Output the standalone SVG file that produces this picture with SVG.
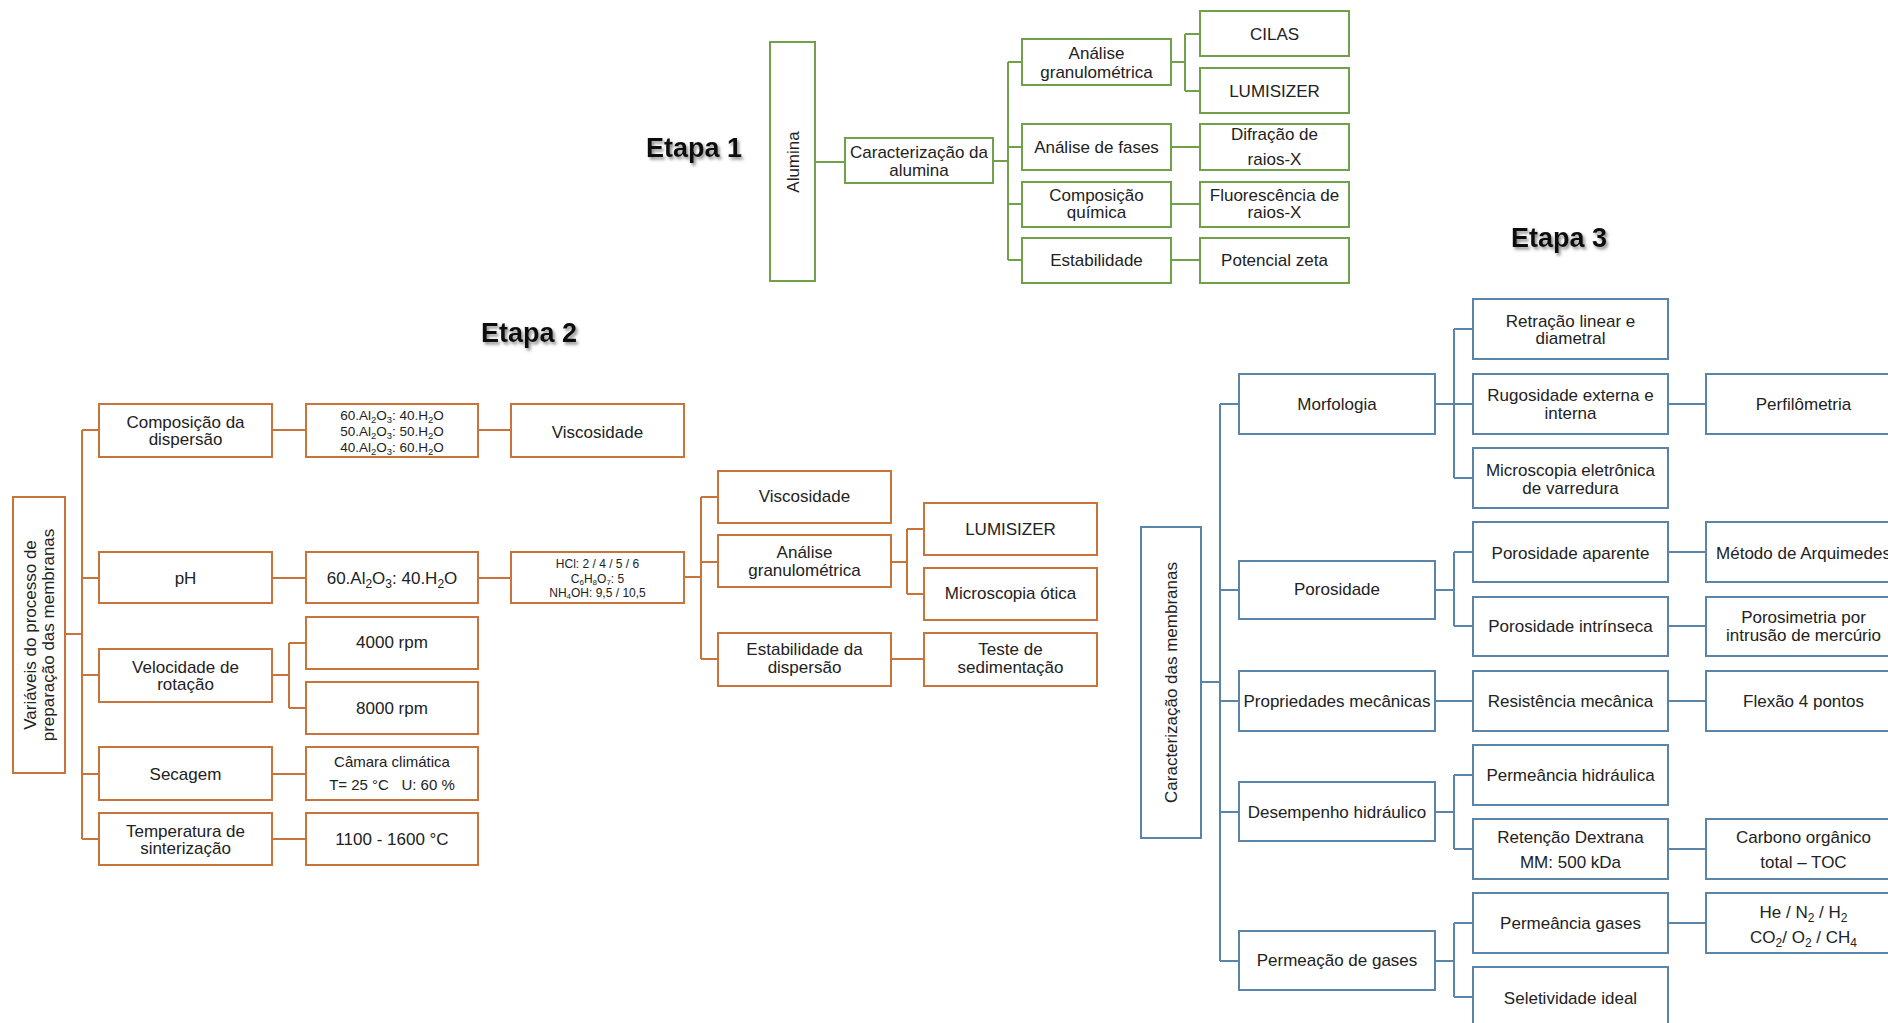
<svg xmlns="http://www.w3.org/2000/svg" width="1888" height="1023" viewBox="0 0 1888 1023">
<defs>
<filter id="sh" x="-10%" y="-30%" width="130%" height="170%">
<feDropShadow dx="2" dy="2.5" stdDeviation="1.6" flood-color="#555" flood-opacity="0.65"/>
</filter>
</defs>
<style>
text{font-family:"Liberation Sans",Arial,sans-serif;font-size:17px;fill:#222;text-anchor:middle}
.title{font-size:27px;font-weight:bold;text-anchor:start;fill:#111}
rect{fill:#fff;stroke-width:2}
.g rect{stroke:#70A048}
.o rect{stroke:#C8733A}
.b rect{stroke:#5A84A8}
.cg path{stroke:#70A048;stroke-width:2;fill:none}
.co path{stroke:#C8733A;stroke-width:2;fill:none}
.cb path{stroke:#5A84A8;stroke-width:2;fill:none}
.sm{font-size:13.5px}
.xs{font-size:12px}
</style>
<rect x="0" y="0" width="1888" height="1023" style="fill:#fff;stroke:none"/>

<text class="title" x="646" y="157" filter="url(#sh)">Etapa 1</text>
<text class="title" x="481" y="341.5" filter="url(#sh)">Etapa 2</text>
<text class="title" x="1511" y="247" filter="url(#sh)">Etapa 3</text>

<!-- Connectors -->
<g id="connectors">
<g class="cg">
<path d="M815 162H845"/>
<path d="M993 161H1008M1008 62V260M1008 62H1022M1008 147H1022M1008 204H1022M1008 260H1022"/>
<path d="M1171 62H1185M1185 34V91M1185 34H1200M1185 91H1200"/>
<path d="M1171 147H1200M1171 204H1200M1171 260H1200"/>
</g>
<g class="co">
<path d="M65 634H82M82 430V839M82 430H99M82 578H99M82 675H99M82 774H99M82 839H99"/>
<path d="M272 430H306M272 578H306M272 675H289M289 643V708M289 643H306M289 708H306M272 774H306M272 839H306"/>
<path d="M478 430H511M478 578H511"/>
<path d="M684 577H701M701 497V659M701 497H718M701 562H718M701 659H718"/>
<path d="M891 562H907M907 529V594M907 529H924M907 594H924M891 659H924"/>
</g>
<g class="cb">
<path d="M1201 682H1220M1220 404V961M1220 404H1239M1220 590H1239M1220 701H1239M1220 812H1239M1220 961H1239"/>
<path d="M1435 404H1454M1454 329V478M1454 329H1473M1454 404H1473M1454 478H1473"/>
<path d="M1435 590H1454M1454 552V626M1454 552H1473M1454 626H1473"/>
<path d="M1435 701H1473"/>
<path d="M1435 812H1454M1454 775V849M1454 775H1473M1454 849H1473"/>
<path d="M1435 961H1454M1454 923V997M1454 923H1473M1454 997H1473"/>
<path d="M1668 404H1706M1668 552H1706M1668 626H1706M1668 701H1706M1668 849H1706M1668 923H1706"/>
</g>
</g>

<!-- Etapa 1 -->
<g class="g">
<g id="alumina"><rect x="770" y="42" width="45" height="239"/><text transform="translate(792.5,162) rotate(-90)" y="6">Alumina</text></g>
<g id="caract-alumina"><rect x="845" y="138" width="148" height="45"/><text x="919" y="158">Caracterização da</text><text x="919" y="176">alumina</text></g>
<g id="analise-gran"><rect x="1022" y="39" width="149" height="46"/><text x="1096.5" y="59">Análise</text><text x="1096.5" y="78">granulométrica</text></g>
<g id="analise-fases"><rect x="1022" y="124" width="149" height="46"/><text x="1096.5" y="153">Análise de fases</text></g>
<g id="comp-quimica"><rect x="1022" y="182" width="149" height="45"/><text x="1096.5" y="201">Composição</text><text x="1096.5" y="218">química</text></g>
<g id="estabilidade"><rect x="1022" y="238" width="149" height="45"/><text x="1096.5" y="266">Estabilidade</text></g>
<g id="cilas"><rect x="1200" y="11" width="149" height="45"/><text x="1274.5" y="40">CILAS</text></g>
<g id="lumisizer1"><rect x="1200" y="68" width="149" height="45"/><text x="1274.5" y="96.5">LUMISIZER</text></g>
<g id="difracao"><rect x="1200" y="124" width="149" height="46"/><text x="1274.5" y="140">Difração de</text><text x="1274.5" y="165">raios-X</text></g>
<g id="fluorescencia"><rect x="1200" y="182" width="149" height="45"/><text x="1274.5" y="201">Fluorescência de</text><text x="1274.5" y="218">raios-X</text></g>
<g id="potencial"><rect x="1200" y="238" width="149" height="45"/><text x="1274.5" y="266">Potencial zeta</text></g>
</g>

<!-- Etapa 2 -->
<g class="o">
<g id="variaveis"><rect x="13" y="497" width="52" height="276"/><text transform="translate(39,635) rotate(-90)"><tspan x="0" y="-2.7">Variáveis do processo de</tspan><tspan x="0" y="14.7">preparação das membranas</tspan></text></g>
<g id="comp-disp"><rect x="99" y="404" width="173" height="53"/><text x="185.5" y="427.5">Composição da</text><text x="185.5" y="445">dispersão</text></g>
<g id="ph"><rect x="99" y="552" width="173" height="51"/><text x="185.5" y="584">pH</text></g>
<g id="velocidade"><rect x="99" y="649" width="173" height="53"/><text x="185.5" y="672.5">Velocidade de</text><text x="185.5" y="690">rotação</text></g>
<g id="secagem"><rect x="99" y="747" width="173" height="53"/><text x="185.5" y="780">Secagem</text></g>
<g id="temperatura"><rect x="99" y="813" width="173" height="52"/><text x="185.5" y="836.5">Temperatura de</text><text x="185.5" y="853.5">sinterização</text></g>
<g id="composicoes"><rect x="306" y="404" width="172" height="53"/>
<text class="sm" x="392" y="420">60.Al<tspan dy="3" font-size="9.5">2</tspan><tspan dy="-3">O</tspan><tspan dy="3" font-size="9.5">3</tspan><tspan dy="-3">: 40.H</tspan><tspan dy="3" font-size="9.5">2</tspan><tspan dy="-3">O</tspan></text>
<text class="sm" x="392" y="435.5">50.Al<tspan dy="3" font-size="9.5">2</tspan><tspan dy="-3">O</tspan><tspan dy="3" font-size="9.5">3</tspan><tspan dy="-3">: 50.H</tspan><tspan dy="3" font-size="9.5">2</tspan><tspan dy="-3">O</tspan></text>
<text class="sm" x="392" y="451.5">40.Al<tspan dy="3" font-size="9.5">2</tspan><tspan dy="-3">O</tspan><tspan dy="3" font-size="9.5">3</tspan><tspan dy="-3">: 60.H</tspan><tspan dy="3" font-size="9.5">2</tspan><tspan dy="-3">O</tspan></text>
</g>
<g id="al60"><rect x="306" y="552" width="172" height="51"/>
<text x="392" y="584">60.Al<tspan dy="4" font-size="12">2</tspan><tspan dy="-4">O</tspan><tspan dy="4" font-size="12">3</tspan><tspan dy="-4">:  40.H</tspan><tspan dy="4" font-size="12">2</tspan><tspan dy="-4">O</tspan></text></g>
<g id="rpm4000"><rect x="306" y="617" width="172" height="52"/><text x="392" y="648">4000 rpm</text></g>
<g id="rpm8000"><rect x="306" y="682" width="172" height="52"/><text x="392" y="714">8000 rpm</text></g>
<g id="camara"><rect x="306" y="747" width="172" height="53"/><text class="sm" x="392" y="766.5" style="font-size:15px">Câmara climática</text><text x="392" y="790" style="font-size:15px" xml:space="preserve">T= 25 °C   U: 60 %</text></g>
<g id="t1100"><rect x="306" y="813" width="172" height="52"/><text x="392" y="845">1100 - 1600 °C</text></g>
<g id="visc1"><rect x="511" y="404" width="173" height="53"/><text x="597.5" y="437.5">Viscosidade</text></g>
<g id="hcl"><rect x="511" y="552" width="173" height="51"/>
<text class="xs" x="597.5" y="568">HCl: 2 / 4 / 5 / 6</text>
<text class="xs" x="597.5" y="582.5">C<tspan dy="2" font-size="8">6</tspan><tspan dy="-2">H</tspan><tspan dy="2" font-size="8">8</tspan><tspan dy="-2">O</tspan><tspan dy="2" font-size="8">7</tspan><tspan dy="-2">: 5</tspan></text>
<text class="xs" x="597.5" y="596.5">NH<tspan dy="2" font-size="8">4</tspan><tspan dy="-2">OH: 9,5 / 10,5</tspan></text></g>
<g id="visc2"><rect x="718" y="471" width="173" height="52"/><text x="804.5" y="502">Viscosidade</text></g>
<g id="gran2"><rect x="718" y="535" width="173" height="52"/><text x="804.5" y="558">Análise</text><text x="804.5" y="576">granulométrica</text></g>
<g id="estab2"><rect x="718" y="633" width="173" height="53"/><text x="804.5" y="655">Estabilidade da</text><text x="804.5" y="673">dispersão</text></g>
<g id="lumisizer2"><rect x="924" y="503" width="173" height="52"/><text x="1010.5" y="535">LUMISIZER</text></g>
<g id="microscopia"><rect x="924" y="568" width="173" height="52"/><text x="1010.5" y="599">Microscopia ótica</text></g>
<g id="teste"><rect x="924" y="633" width="173" height="53"/><text x="1010.5" y="655">Teste de</text><text x="1010.5" y="673">sedimentação</text></g>
</g>

<!-- Etapa 3 -->
<g class="b">
<g id="caract-membranas"><rect x="1141" y="527" width="60" height="311"/><text transform="translate(1171,682.5) rotate(-90)" y="6">Caracterização das membranas</text></g>
<g id="morfologia"><rect x="1239" y="374" width="196" height="60"/><text x="1337" y="410">Morfologia</text></g>
<g id="porosidade"><rect x="1239" y="561" width="196" height="58"/><text x="1337" y="595">Porosidade</text></g>
<g id="propriedades"><rect x="1239" y="671" width="196" height="60"/><text x="1337" y="707">Propriedades mecânicas</text></g>
<g id="desempenho"><rect x="1239" y="782" width="196" height="59"/><text x="1337" y="818">Desempenho  hidráulico</text></g>
<g id="permeacao"><rect x="1239" y="931" width="196" height="59"/><text x="1337" y="966">Permeação de gases</text></g>
<g id="retracao"><rect x="1473" y="299" width="195" height="60"/><text x="1570.5" y="326.5">Retração linear e</text><text x="1570.5" y="344">diametral</text></g>
<g id="rugosidade"><rect x="1473" y="374" width="195" height="60"/><text x="1570.5" y="401">Rugosidade  externa e</text><text x="1570.5" y="418.5">interna</text></g>
<g id="mev"><rect x="1473" y="448" width="195" height="60"/><text x="1570.5" y="476">Microscopia eletrônica</text><text x="1570.5" y="493.5">de varredura</text></g>
<g id="poros-aparente"><rect x="1473" y="522" width="195" height="60"/><text x="1570.5" y="558.5">Porosidade aparente</text></g>
<g id="poros-intrinseca"><rect x="1473" y="597" width="195" height="59"/><text x="1570.5" y="631.5">Porosidade intrínseca</text></g>
<g id="resistencia"><rect x="1473" y="671" width="195" height="60"/><text x="1570.5" y="707">Resistência  mecânica</text></g>
<g id="perm-hidraulica"><rect x="1473" y="745" width="195" height="60"/><text x="1570.5" y="781">Permeância hidráulica</text></g>
<g id="retencao"><rect x="1473" y="819" width="195" height="60"/><text x="1570.5" y="842.5">Retenção  Dextrana</text><text x="1570.5" y="867.5">MM: 500 kDa</text></g>
<g id="perm-gases"><rect x="1473" y="893" width="195" height="60"/><text x="1570.5" y="929">Permeância gases</text></g>
<g id="seletividade"><rect x="1473" y="967" width="195" height="60"/><text x="1570.5" y="1004">Seletividade  ideal</text></g>
<g id="perfilometria"><rect x="1706" y="374" width="195" height="60"/><text x="1803.5" y="410">Perfilômetria</text></g>
<g id="arquimedes"><rect x="1706" y="522" width="195" height="60"/><text x="1803.5" y="558.5">Método de Arquimedes</text></g>
<g id="porosimetria"><rect x="1706" y="597" width="195" height="59"/><text x="1803.5" y="623">Porosimetria por</text><text x="1803.5" y="641">intrusão de mercúrio</text></g>
<g id="flexao"><rect x="1706" y="671" width="195" height="60"/><text x="1803.5" y="707">Flexão  4 pontos</text></g>
<g id="carbono"><rect x="1706" y="819" width="195" height="60"/><text x="1803.5" y="842.5">Carbono orgânico</text><text x="1803.5" y="867.5">total – TOC</text></g>
<g id="gases"><rect x="1706" y="893" width="195" height="60"/>
<text x="1803.5" y="917.5">He / N<tspan dy="4" font-size="12">2</tspan><tspan dy="-4"> / H</tspan><tspan dy="4" font-size="12">2</tspan></text>
<text x="1803.5" y="942.5">CO<tspan dy="4" font-size="12">2</tspan><tspan dy="-4">/ O</tspan><tspan dy="4" font-size="12">2</tspan><tspan dy="-4"> / CH</tspan><tspan dy="4" font-size="12">4</tspan></text></g>
</g>
</svg>
